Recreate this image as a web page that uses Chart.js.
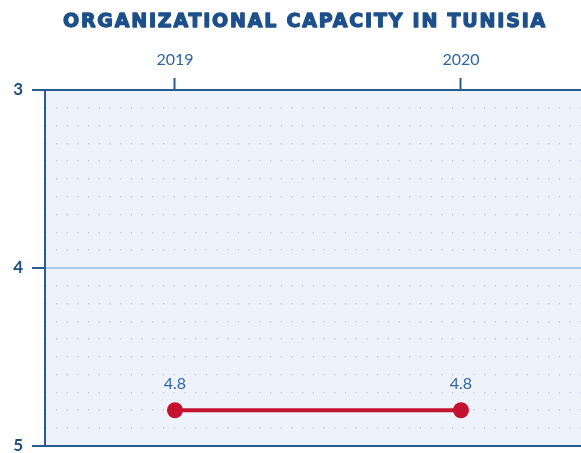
<!DOCTYPE html>
<html>
<head>
<meta charset="utf-8">
<script src="https://cdn.jsdelivr.net/npm/chart.js@4/dist/chart.umd.min.js"></script>
<style>
  html, body { margin: 0; padding: 0; background: #ffffff; overflow: hidden; }
  #wrap { width: 610px; height: 465px; }
</style>
</head>
<body>
<div id="wrap"><canvas id="chart" width="610" height="465"></canvas></div>
<script>
// Survey years and scores (scale runs 3 at top to 5 at bottom)
const categories = ['2019', '2020'];
const years = [2019, 2020];
const scores = [4.8, 4.8];
const yTickLabels = [3, 4, 5];
const chartTitle = 'ORGANIZATIONAL CAPACITY IN TUNISIA';

const NAVY = '#2a5d8f';
const TEXT_BLUE = '#2d66a0';
const RED = '#c4122f';
const NARROW = '"Liberation Sans Narrow", Lato, "Open Sans", sans-serif';

const points = years.map((x, i) => ({ x: x, y: scores[i] }));

// Light blue panel behind the plot area
const panelBackground = {
  id: 'panelBackground',
  beforeDraw(chart) {
    const { ctx, chartArea: a } = chart;
    ctx.save();
    ctx.fillStyle = '#eef3fb';
    ctx.fillRect(a.left, a.top, a.right - a.left, a.bottom - a.top);
    ctx.restore();
  }
};

// Heavy, spaced-out heading across the top
const heading = {
  id: 'heading',
  afterDraw(chart) {
    const { ctx } = chart;
    ctx.save();
    ctx.font = 'bold 19px "DejaVu Sans", sans-serif';
    if ('letterSpacing' in ctx) ctx.letterSpacing = '1.8px';
    ctx.fillStyle = '#1d4f8b';
    ctx.strokeStyle = '#1d4f8b';
    ctx.lineWidth = 1.3;
    ctx.lineJoin = 'round';
    ctx.textAlign = 'center';
    ctx.textBaseline = 'alphabetic';
    const x = chart.width / 2;
    ctx.fillText(chartTitle, x, 27);
    ctx.strokeText(chartTitle, x, 27);
    ctx.restore();
  }
};

// Value labels above each point
const valueLabels = {
  id: 'valueLabels',
  afterDatasetsDraw(chart) {
    const { ctx } = chart;
    const meta = chart.getDatasetMeta(0);
    ctx.save();
    ctx.font = '16px ' + NARROW;
    ctx.fillStyle = TEXT_BLUE;
    ctx.textAlign = 'center';
    ctx.textBaseline = 'middle';
    meta.data.forEach((pt, i) => {
      ctx.fillText(scores[i].toFixed(1), pt.x, pt.y - 26);
    });
    ctx.restore();
  }
};

const isWhole = v => Math.abs(v - Math.round(v)) < 1e-6;

new Chart(document.getElementById('chart'), {
  type: 'line',
  data: {
    labels: categories,
    datasets: [{
      data: points,
      borderColor: RED,
      backgroundColor: RED,
      borderWidth: 4,
      pointRadius: 8,
      pointHoverRadius: 8,
      pointBackgroundColor: RED,
      pointBorderColor: RED,
      pointBorderWidth: 0,
      fill: false,
      tension: 0,
      clip: false
    }]
  },
  options: {
    responsive: false,
    animation: false,
    events: [],
    layout: { padding: { left: 0, right: 0, top: 30, bottom: 0 } },
    plugins: {
      legend: { display: false },
      tooltip: { enabled: false },
      title: { display: false }
    },
    scales: {
      x: {
        type: 'linear',
        position: 'top',
        min: 2018.5455,
        max: 2020.4931,
        afterBuildTicks(scale) {
          scale.ticks = years.map(v => ({ value: v }));
        },
        afterFit(scale) { scale.height = 60; },
        ticks: {
          color: TEXT_BLUE,
          font: { family: NARROW, size: 16 },
          padding: 9,
          maxRotation: 0,
          callback: v => String(v)
        },
        grid: {
          drawOnChartArea: false,
          drawTicks: true,
          tickLength: 12,
          tickColor: NAVY,
          tickWidth: 2
        },
        border: { display: true, color: NAVY, width: 2 }
      },
      y: {
        type: 'linear',
        reverse: true,
        min: 3,
        max: 5,
        afterBuildTicks(scale) {
          const t = [];
          for (let k = 0; k <= 20; k++) t.push({ value: 3 + k / 10 });
          scale.ticks = t;
        },
        afterFit(scale) { scale.width = 45; },
        ticks: {
          color: '#1f4d7e',
          font: { family: 'Lato, "Open Sans", sans-serif', size: 17, weight: 'bold' },
          padding: 9,
          autoSkip: false,
          callback: v => (yTickLabels.some(l => Math.abs(l - v) < 1e-6) ? String(Math.round(v)) : '')
        },
        grid: {
          drawOnChartArea: true,
          drawTicks: true,
          tickLength: 13,
          color: ctx => {
            const v = ctx.tick.value;
            if (Math.abs(v - 4) < 1e-6) return '#a9c7e6';
            if (isWhole(v)) return NAVY;
            return '#c3c9d6';
          },
          lineWidth: ctx => (isWhole(ctx.tick.value) ? 2 : 1.5),
          tickColor: ctx => (isWhole(ctx.tick.value) ? NAVY : 'rgba(0,0,0,0)'),
          tickWidth: 2
        },
        border: {
          display: true,
          color: NAVY,
          width: 2,
          dash: ctx => (ctx.tick && !isWhole(ctx.tick.value) ? [1.2, 9.5] : []),
          dashOffset: 0.7
        }
      }
    }
  },
  plugins: [panelBackground, valueLabels, heading]
});
</script>
</body>
</html>
